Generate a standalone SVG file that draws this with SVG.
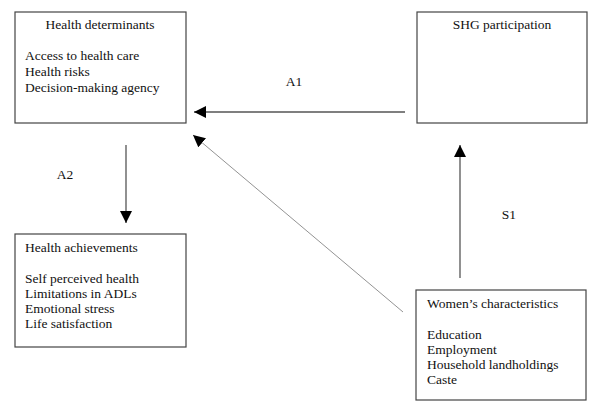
<svg xmlns="http://www.w3.org/2000/svg" width="600" height="415" viewBox="0 0 600 415">
<style>
.box{fill:#fff;stroke:#444;stroke-width:1.2}
text{font-family:"Liberation Serif","Times New Roman",serif;font-size:13.5px;fill:#111}
.c{text-anchor:middle}
.ln{stroke:#555;stroke-width:1.3;fill:none}
.thin{stroke:#777;stroke-width:0.8;fill:none}
</style>
<defs>
<marker id="ah" viewBox="0 0 10 10" refX="10" refY="5" markerWidth="12" markerHeight="12" markerUnits="userSpaceOnUse" orient="auto">
<path d="M0,0 L10,5 L0,10 z" fill="#000"/>
</marker>
</defs>
<rect width="600" height="415" fill="#fff"/>
<g id="health-determinants">
<rect class="box" x="15" y="12" width="171" height="111"/>
<text class="c" x="100" y="29">Health determinants</text>
<text x="25" y="60">Access to health care</text>
<text x="25" y="76">Health risks</text>
<text x="25" y="92">Decision-making agency</text>
</g>
<g id="shg-participation">
<rect class="box" x="417" y="12" width="170" height="111"/>
<text class="c" x="502" y="29">SHG participation</text>
</g>
<g id="health-achievements">
<rect class="box" x="15" y="234" width="171" height="113"/>
<text x="25" y="252">Health achievements</text>
<text x="25" y="283">Self perceived health</text>
<text x="25" y="298">Limitations in ADLs</text>
<text x="25" y="313">Emotional stress</text>
<text x="25" y="328">Life satisfaction</text>
</g>
<g id="womens-characteristics">
<rect class="box" x="416" y="290" width="170" height="110"/>
<text x="427" y="308">Women’s characteristics</text>
<text x="427" y="339">Education</text>
<text x="427" y="354">Employment</text>
<text x="427" y="369">Household landholdings</text>
<text x="427" y="384">Caste</text>
</g>
<g id="connectors">
<line class="ln" x1="405" y1="112" x2="194" y2="112" marker-end="url(#ah)"/>
<line class="thin" x1="403" y1="312" x2="193" y2="135" marker-end="url(#ah)"/>
<line class="ln" x1="126" y1="145" x2="126" y2="223" marker-end="url(#ah)"/>
<line class="ln" x1="460" y1="278" x2="460" y2="145" marker-end="url(#ah)"/>
<text class="c" x="294" y="86">A1</text>
<text class="c" x="65" y="179">A2</text>
<text class="c" x="509" y="219">S1</text>
</g>
</svg>
